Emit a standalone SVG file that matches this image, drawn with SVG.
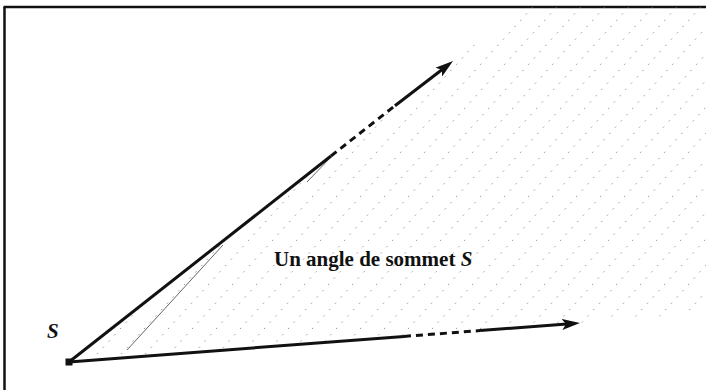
<svg xmlns="http://www.w3.org/2000/svg" width="706" height="390" viewBox="0 0 706 390">
<style>
.frame{stroke:#111;stroke-width:2.5;fill:none}
.ray{stroke:#111;stroke-width:3;fill:none;stroke-linecap:butt}
.dash{stroke-dasharray:7 5}
.hatch{stroke:#7a7a7a;stroke-width:0.8;stroke-dasharray:1.5 7;fill:none}
.hatch-solid{stroke:#555;stroke-width:0.9;fill:none}
.lbl{font-family:"Liberation Serif","Times New Roman",serif;font-size:21px;fill:#111}
</style>
<defs>
<marker id="arr" markerUnits="userSpaceOnUse" markerWidth="20" markerHeight="12" refX="8" refY="6" orient="auto">
<path d="M0,0.5 L18,6 L0,11.5 L4,6 Z" fill="#111"/>
</marker>
<clipPath id="region">
<polygon points="69,362 522,7 706,7 706,313 580,323"/>
</clipPath>
</defs>
<rect width="706" height="390" fill="#fff"/>
<g id="frame">
<line class="frame" x1="4.5" y1="7" x2="4.5" y2="390"/>
<line class="frame" x1="3.5" y1="7" x2="706" y2="7"/>
</g>
<g id="hatching" clip-path="url(#region)">
<line class="hatch" x1="80" y1="373" x2="420" y2="-1"/>
<line class="hatch" x1="104" y1="373" x2="444" y2="-1"/>
<line class="hatch" x1="128" y1="373" x2="468" y2="-1"/>
<line class="hatch" x1="152" y1="373" x2="492" y2="-1"/>
<line class="hatch" x1="176" y1="373" x2="516" y2="-1"/>
<line class="hatch" x1="200" y1="373" x2="540" y2="-1"/>
<line class="hatch" x1="224" y1="373" x2="564" y2="-1"/>
<line class="hatch" x1="248" y1="373" x2="588" y2="-1"/>
<line class="hatch" x1="272" y1="373" x2="612" y2="-1"/>
<line class="hatch" x1="296" y1="373" x2="636" y2="-1"/>
<line class="hatch" x1="320" y1="373" x2="660" y2="-1"/>
<line class="hatch" x1="344" y1="373" x2="684" y2="-1"/>
<line class="hatch" x1="368" y1="373" x2="708" y2="-1"/>
<line class="hatch" x1="392" y1="373" x2="732" y2="-1"/>
<line class="hatch" x1="416" y1="373" x2="756" y2="-1"/>
<line class="hatch" x1="440" y1="373" x2="780" y2="-1"/>
<line class="hatch" x1="464" y1="373" x2="804" y2="-1"/>
<line class="hatch" x1="488" y1="373" x2="828" y2="-1"/>
<line class="hatch" x1="512" y1="373" x2="852" y2="-1"/>
<line class="hatch" x1="536" y1="373" x2="876" y2="-1"/>
<line class="hatch" x1="560" y1="373" x2="900" y2="-1"/>
<line class="hatch" x1="584" y1="373" x2="924" y2="-1"/>
<line class="hatch" x1="608" y1="373" x2="948" y2="-1"/>
<line class="hatch" x1="632" y1="373" x2="972" y2="-1"/>
<line class="hatch" x1="656" y1="373" x2="996" y2="-1"/>
<line class="hatch" x1="680" y1="373" x2="1020" y2="-1"/>
<line class="hatch" x1="704" y1="373" x2="1044" y2="-1"/>
<line class="hatch" x1="728" y1="373" x2="1068" y2="-1"/>
<line class="hatch" x1="50" y1="373" x2="390" y2="-1"/>
<line class="hatch" x1="20" y1="373" x2="360" y2="-1"/>
<line class="hatch" x1="-10" y1="373" x2="330" y2="-1"/>
<line class="hatch" x1="-40" y1="373" x2="300" y2="-1"/>
<line class="hatch-solid" x1="127" y1="350" x2="223" y2="245"/>
<line class="hatch-solid" x1="307" y1="182" x2="330" y2="158"/>
</g>
<g id="rays">
<path class="ray" d="M69,362 L331,156"/>
<path class="ray dash" d="M331,156 L395,105.7"/>
<path class="ray" d="M395,105.7 L445.1,67.2" marker-end="url(#arr)"/>
<path class="ray" d="M69,362 L404,336.4"/>
<path class="ray dash" d="M404,336.4 L480,330.6"/>
<path class="ray" d="M480,330.6 L570,323.8" marker-end="url(#arr)"/>
</g>
<g id="vertex">
<rect x="65.5" y="358.5" width="7" height="7" fill="#111"/>
</g>
<g id="label-S">
<text class="lbl" x="47" y="338" font-style="italic" font-weight="bold">S</text>
</g>
<g id="label-angle">
<text class="lbl" x="274" y="266" font-weight="bold">Un angle de sommet <tspan font-style="italic">S</tspan></text>
</g>
</svg>
